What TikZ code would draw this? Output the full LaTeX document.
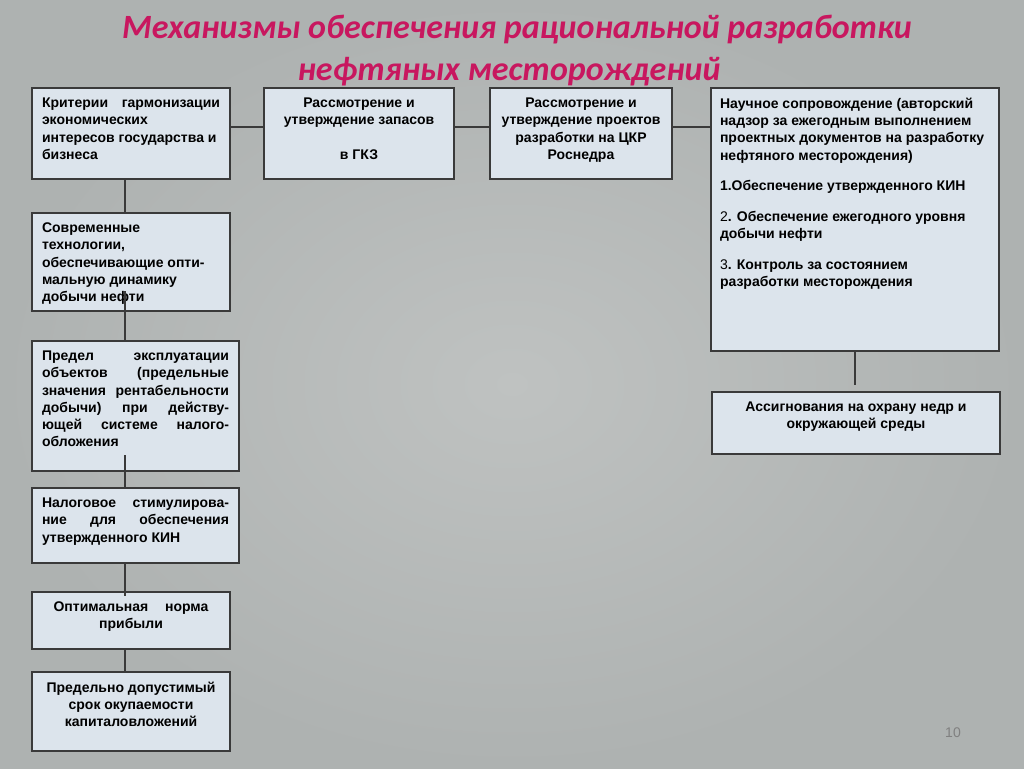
\documentclass[tikz,border=0pt]{standalone}
\usepackage{fontspec}
\setmainfont{Liberation Sans}
\newfontfamily\titlefont{Carlito}
\usetikzlibrary{calc}
\definecolor{bgin}{HTML}{BFC2C1}
\definecolor{bgout}{HTML}{AEB2B1}
\definecolor{boxfill}{HTML}{DCE4EC}
\definecolor{boxline}{HTML}{3A3A3A}
\definecolor{titlecol}{HTML}{C8175F}
\definecolor{numcol}{HTML}{808080}
\newcommand{\boxtxt}[3]{\parbox[c][#2pt][t]{#1pt}{#3}}
\tikzset{
  box/.style={draw=boxline, fill=boxfill, line width=1.3pt, anchor=north west,
    inner xsep=10pt, inner ysep=10pt, outer sep=0pt,
    font=\bfseries\fontsize{14}{17.2}\selectfont},
  conn/.style={draw=boxline, line width=1.2pt},
  ttl/.style={anchor=base, text=titlecol, inner sep=0pt,
    font=\titlefont\bfseries\itshape\fontsize{34}{40}\selectfont}
}
\begin{document}
\begin{tikzpicture}[x=1pt,y=-1pt]
\shade[inner color=bgin, outer color=bgout] (0,0) rectangle (1024,768);
\useasboundingbox (0,0) rectangle (1024,768);

\node[ttl] (title1) at (517,39) {Механизмы обеспечения рациональной разработки};
\node[ttl] (title2) at (509,80) {нефтяных месторождений};

\node[box] (b1) at (32,88) {\boxtxt{178}{71}{\raggedright
  Критерии\hfill гармонизации\\
  экономических\\
  интересов государства и\\
  бизнеса}};
\node[box] (b2) at (264,88) {\boxtxt{170}{71}{\centering
  Рассмотрение и\\
  утверждение запасов\\[17pt]
  в ГКЗ}};
\node[box] (b3) at (490,88) {\boxtxt{162}{71}{\centering
  Рассмотрение и\\
  утверждение проектов\\
  разработки на ЦКР\\
  Роснедра}};
\node[box, inner xsep=9pt] (b4) at (711,88) {\boxtxt{270}{243}{\raggedright
  Научное сопровождение (авторский\\
  надзор за ежегодным выполнением\\
  проектных документов на разработку\\
  нефтяного месторождения)\\[13.5pt]
  1.Обеспечение утвержденного КИН\\[13.5pt]
  {\mdseries 2}. Обеспечение ежегодного уровня\\
  добычи нефти\\[13.5pt]
  {\mdseries 3}. Контроль за состоянием\\
  разработки месторождения}};
\node[box] (b5) at (32,213) {\boxtxt{178}{78}{\raggedright
  Современные\\
  технологии,\\
  обеспечивающие опти-\\
  мальную динамику\\
  добычи нефти}};
\node[box] (b6) at (32,341) {\boxtxt{187}{110}{\raggedright
  Предел\hfill эксплуатации\\
  объектов\hfill (предельные\\
  значения\hfill рентабельности\\
  добычи)\hfill при\hfill действу-\\
  ющей\hfill системе\hfill налого-\\
  обложения}};
\node[box] (b7) at (32,488) {\boxtxt{187}{55}{\raggedright
  Налоговое\hfill стимулирова-\\
  ние\hfill для\hfill обеспечения\\
  утвержденного КИН}};
\node[box] (b8) at (32,592) {\boxtxt{178}{37}{\centering
  Оптимальная\hspace{1.2em}норма\\
  прибыли}};
\node[box] (b9) at (32,672) {\boxtxt{178}{59}{\centering
  Предельно допустимый\\
  срок окупаемости\\
  капиталовложений}};
\node[box] (b10) at (712,392) {\boxtxt{268}{42}{\centering
  Ассигнования на охрану недр и\\
  окружающей среды}};

\node[text=numcol, font=\fontsize{14}{14}\selectfont] (pg) at (953,733) {10};

% connectors
\draw[conn] ([yshift=6.5pt]b1.east) -- ([yshift=6.5pt]b2.west);
\draw[conn] ([yshift=6.5pt]b2.east) -- ([yshift=6.5pt]b3.west);
\draw[conn] ([yshift=6.5pt]b3.east) -- ([yshift=6.5pt]b3.east -| b4.west);
\draw[conn] ([xshift=-6pt]b1.south) -- ([xshift=-6pt]b5.north);
\draw[conn] ([xshift=-6pt,yshift=20pt]b5.south) -- ([xshift=-10.5pt]b6.north);
\draw[conn] ([xshift=-10.5pt,yshift=16pt]b6.south) -- ([xshift=-10.5pt]b7.north);
\draw[conn] ([xshift=-10.5pt]b7.south) -- ([xshift=-6pt,yshift=-4pt]b8.north);
\draw[conn] ([xshift=-6pt]b8.south) -- ([xshift=-6pt]b9.north);
\draw[conn] (b4.south) -- ([yshift=7pt]b4.south |- b10.north);
\end{tikzpicture}
\end{document}
